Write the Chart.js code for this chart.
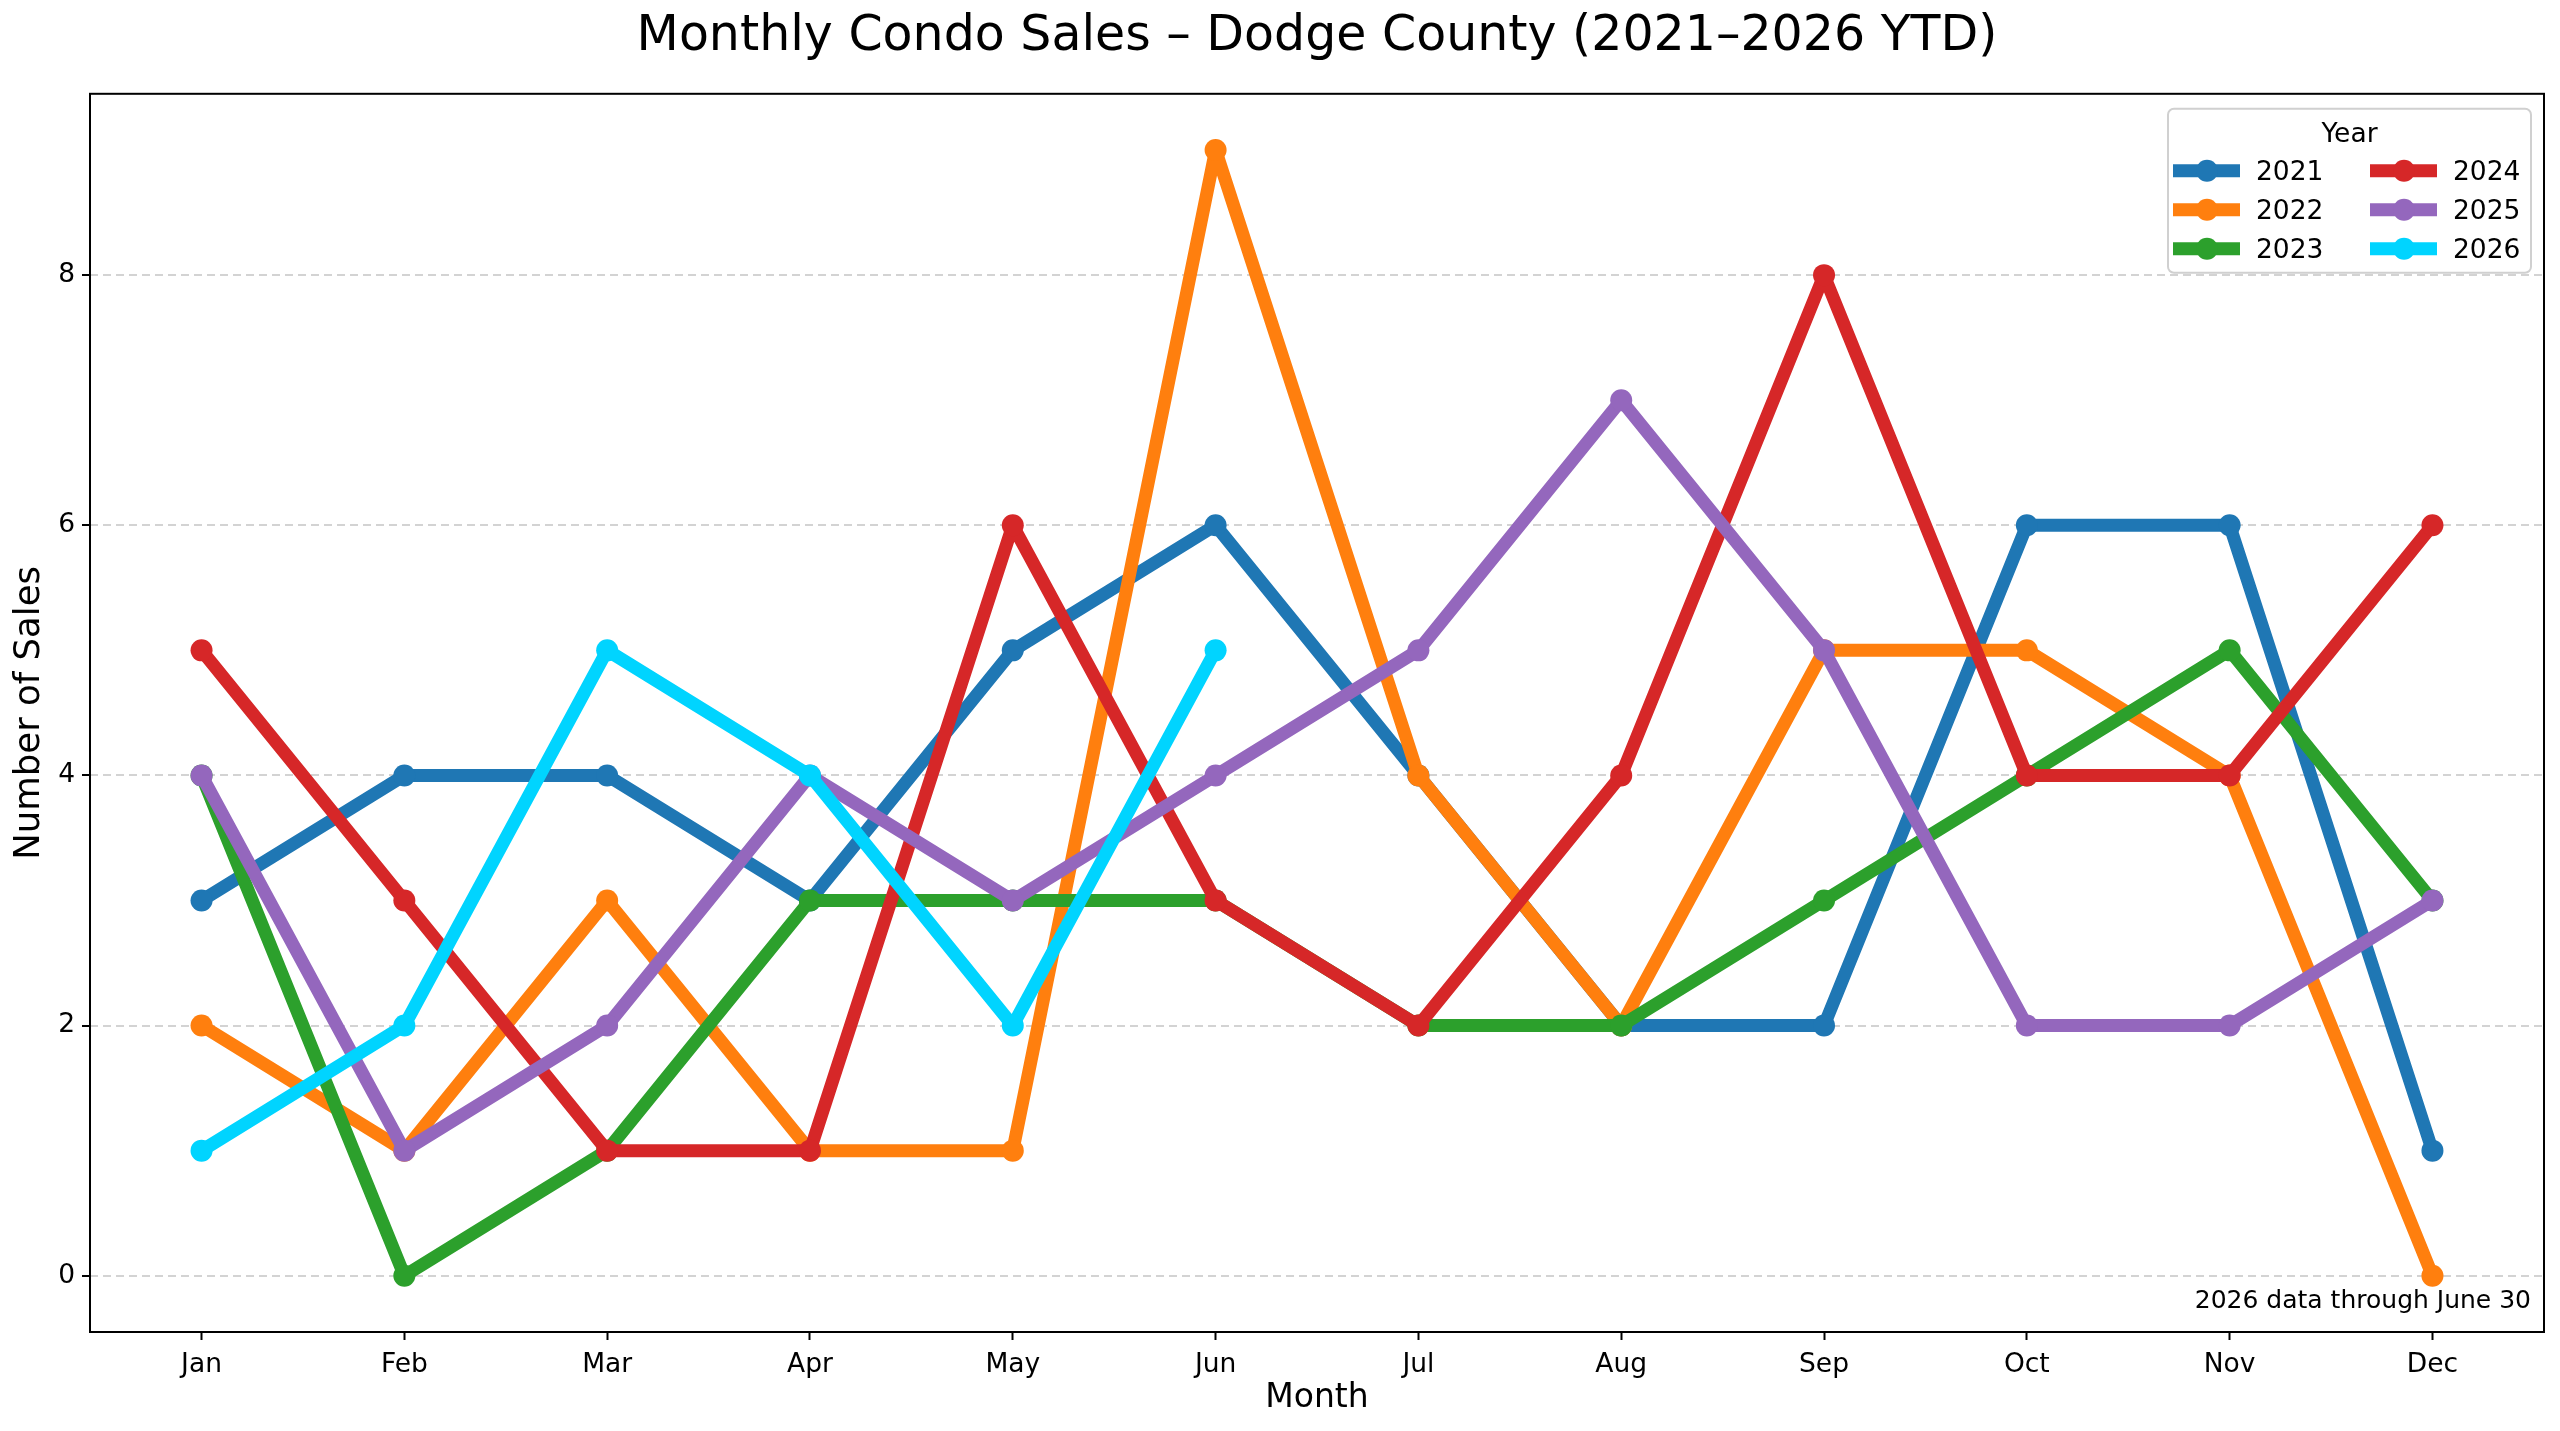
<!DOCTYPE html>
<html>
<head>
<meta charset="utf-8">
<title>Monthly Condo Sales – Dodge County</title>
<script src="https://cdn.jsdelivr.net/npm/chart.js@4.4.1/dist/chart.umd.min.js"></script>
<style>
  html, body { margin: 0; padding: 0; background: #fff; }
  #wrap { width: 2560px; height: 1431px; }
</style>
</head>
<body>
<div id="wrap"><canvas id="salesChart" width="2560" height="1431"></canvas></div>
<script>
// Month labels along the x axis
const months = ['Jan', 'Feb', 'Mar', 'Apr', 'May', 'Jun', 'Jul', 'Aug', 'Sep', 'Oct', 'Nov', 'Dec'];

// Condo sales per month, one array per year (2026 is year to date)
const years = ['2021', '2022', '2023', '2024', '2025', '2026'];
const sales2021 = [3, 4, 4, 3, 5, 6, 4, 2, 2, 6, 6, 1];
const sales2022 = [2, 1, 3, 1, 1, 9, 4, 2, 5, 5, 4, 0];
const sales2023 = [4, 0, 1, 3, 3, 3, 2, 2, 3, 4, 5, 3];
const sales2024 = [5, 3, 1, 1, 6, 3, 2, 4, 8, 4, 4, 6];
const sales2025 = [4, 1, 2, 4, 3, 4, 5, 7, 5, 2, 2, 3];
const sales2026 = [1, 2, 5, 4, 2, 5];

const yTicks = [0, 2, 4, 6, 8];
const colors = ['#1f77b4', '#ff7f0e', '#2ca02c', '#d62728', '#9467bd', '#00d4ff'];

const FONT = "'DejaVu Sans', sans-serif";
const allSales = [sales2021, sales2022, sales2023, sales2024, sales2025, sales2026];

const datasets = allSales.map((vals, i) => ({
    label: years[i],
    data: vals.map((v, m) => ({ x: m, y: v })),
    borderColor: colors[i],
    backgroundColor: colors[i],
    pointBackgroundColor: colors[i],
    borderWidth: 13,
    pointRadius: 11,
    pointBorderWidth: 0,
    pointHoverRadius: 11,
    borderJoinStyle: 'round',
    tension: 0,
    fill: false,
    // matplotlib draws later lines on top
    order: allSales.length - i
}));

// frame, footnote and the two-column legend inside the plot
const extras = {
    id: 'extras',
    afterDatasetsDraw(chart) {
        const { ctx, chartArea: a } = chart;
        ctx.save();
        ctx.strokeStyle = '#000';
        ctx.lineWidth = 2;
        ctx.strokeRect(a.left, a.top, a.right - a.left, a.bottom - a.top);
        ctx.restore();
    },
    afterDraw(chart) {
        const { ctx, chartArea: a } = chart;
        ctx.save();

        ctx.font = '25px ' + FONT;
        ctx.fillStyle = '#000';
        ctx.textAlign = 'right';
        ctx.textBaseline = 'middle';
        ctx.fillText('2026 data through June 30', a.right - 13, a.bottom - 31);

        // legend box
        const bx = a.right - 376, by = a.top + 15, bw = 363, bh = 164;
        ctx.beginPath();
        ctx.roundRect(bx, by, bw, bh, 6);
        ctx.fillStyle = 'rgba(255,255,255,0.8)';
        ctx.fill();
        ctx.strokeStyle = '#d0d0d0';
        ctx.lineWidth = 2;
        ctx.stroke();

        ctx.fillStyle = '#000';
        ctx.font = '26.5px ' + FONT;
        ctx.textAlign = 'center';
        ctx.fillText('Year', bx + bw / 2, by + 26);

        ctx.textAlign = 'left';
        chart.data.datasets.forEach((ds, i) => {
            const col = Math.floor(i / 3), row = i % 3;
            const lx = bx + 5 + col * 197;
            const ly = by + 62 + row * 39;
            ctx.strokeStyle = ds.borderColor;
            ctx.lineWidth = 13;
            ctx.beginPath();
            ctx.moveTo(lx, ly);
            ctx.lineTo(lx + 67, ly);
            ctx.stroke();
            ctx.fillStyle = ds.borderColor;
            ctx.beginPath();
            ctx.arc(lx + 34, ly, 11, 0, Math.PI * 2);
            ctx.fill();
            ctx.fillStyle = '#000';
            ctx.fillText(ds.label, lx + 83, ly + 2);
        });
        ctx.restore();
    }
};

const ctx = document.getElementById('salesChart').getContext('2d');

const salesChart = new Chart(ctx, {
    type: 'line',
    data: { datasets: datasets },
    plugins: [extras],
    options: {
        responsive: false,
        devicePixelRatio: 1,
        animation: false,
        events: [],
        layout: { padding: { top: 0, right: 16, bottom: 0, left: 0 } },
        plugins: {
            legend: { display: false },
            tooltip: { enabled: false },
            title: {
                display: true,
                fullSize: false,
                text: 'Monthly Condo Sales – Dodge County (2021–2026 YTD)',
                color: '#000',
                font: { family: FONT, size: 49, weight: 'normal', lineHeight: 1.2 },
                padding: { top: 8, bottom: 27 }
            }
        },
        scales: {
            x: {
                type: 'linear',
                min: -0.55,
                max: 11.55,
                afterFit: s => { s.height = 99; },
                afterBuildTicks: s => { s.ticks = months.map((_, i) => ({ value: i })); },
                ticks: {
                    color: '#000',
                    padding: 9,
                    font: { family: FONT, size: 26.5 },
                    callback: v => months[v]
                },
                grid: {
                    drawOnChartArea: false,
                    drawTicks: true,
                    tickLength: 8,
                    tickColor: '#000',
                    tickWidth: 2
                },
                border: { display: false },
                title: {
                    display: true,
                    text: 'Month',
                    color: '#000',
                    font: { family: FONT, size: 33, lineHeight: 1.2 },
                    padding: { top: 0, bottom: 13 }
                }
            },
            y: {
                type: 'linear',
                min: -0.45,
                max: 9.45,
                afterFit: s => { s.width = 90; },
                afterBuildTicks: s => { s.ticks = yTicks.map(v => ({ value: v })); },
                ticks: {
                    color: '#000',
                    padding: 7,
                    font: { family: FONT, size: 26.5 }
                },
                grid: {
                    color: '#d3d3d3',
                    lineWidth: 2,
                    drawTicks: true,
                    tickLength: 8,
                    tickColor: '#000',
                    tickWidth: 2,
                    tickBorderDash: [1, 0]
                },
                border: { display: false, dash: [8, 5] },
                title: {
                    display: true,
                    text: 'Number of Sales',
                    color: '#000',
                    font: { family: FONT, size: 35.5, lineHeight: 1.2 },
                    padding: { top: 8, bottom: 0 }
                }
            }
        }
    }
});
</script>
</body>
</html>
